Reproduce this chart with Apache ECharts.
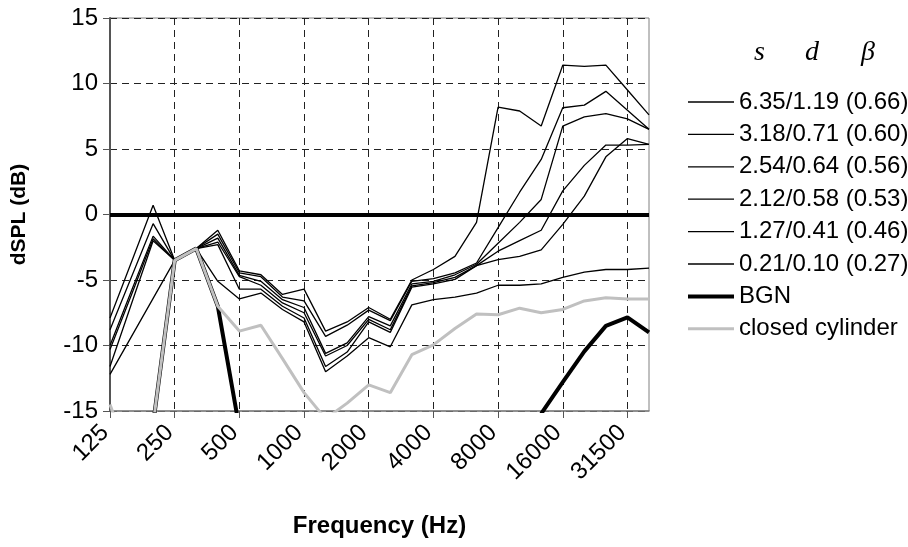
<!DOCTYPE html>
<html>
<head>
<meta charset="utf-8">
<script src="https://cdn.jsdelivr.net/npm/echarts@6/dist/echarts.min.js"></script>
<style>
  html, body { margin: 0; padding: 0; background: #fff; }
  #chart { width: 908px; height: 547px; }
</style>
</head>
<body>
<div id="chart"></div>
<script>
// One-third-octave band centre frequencies (Hz)
const categories = ['125','160','200','250','315','400','500','630','800','1000','1250','1600','2000',
  '2500','3150','4000','5000','6300','8000','10000','12500','16000','20000','25000','31500','40000'];

// Octave labels shown on the axis
const tickLabels = ['125','250','500','1000','2000','4000','8000','16000','31500'];

// dSPL (dB) for each s/d (beta) configuration
const s635 = [-7.9, -3.6, 0.7, -3.5, -2.6, -1.2, -4.3, -4.6, -6.1, -5.7, -8.9, -8.2, -7.1, -8.0, -5.0, -4.2, -3.2, -0.6, 8.2, 7.9, 6.75, 11.4, 11.3, 11.4, 9.5, 7.6];
const s318 = [-8.8, -4.75, -0.7, -3.5, -2.6, -1.5, -4.45, -4.75, -6.3, -6.6, -9.3, -8.45, -7.3, -8.1, -5.1, -4.9, -4.45, -3.7, -1.0, 1.7, 4.2, 8.15, 8.35, 9.4, 7.95, 6.5];
const s254 = [-10.0, -5.8, -1.65, -3.5, -2.6, -1.8, -4.65, -5.1, -6.5, -7.1, -10.6, -9.8, -7.8, -8.5, -5.3, -5.1, -4.6, -3.8, -2.2, -0.6, 1.15, 6.75, 7.45, 7.7, 7.3, 6.5];
const s212 = [-10.3, -6.1, -1.85, -3.5, -2.6, -2.1, -4.75, -5.4, -6.75, -7.5, -10.8, -10.0, -8.0, -8.8, -5.45, -5.2, -4.8, -3.9, -3.45, -3.2, -2.7, -0.75, 1.4, 4.4, 5.8, 5.35];
const s127 = [-11.6, -6.8, -2.0, -3.5, -2.6, -2.3, -5.7, -5.7, -7.0, -7.9, -11.6, -10.5, -8.2, -9.0, -5.55, -5.3, -4.95, -3.9, -2.8, -2.0, -1.2, 1.8, 3.75, 5.3, 5.3, 5.35];
const s021 = [-12.2, -9.3, -6.4, -3.5, -2.6, -5.1, -6.45, -6.0, -7.25, -8.2, -12.0, -10.8, -9.4, -10.1, -6.9, -6.5, -6.3, -6.0, -5.4, -5.4, -5.3, -4.8, -4.4, -4.2, -4.2, -4.1];

// Background noise and closed-cylinder reference (null where off the scale)
const bgn = [null, null, -16.0, -3.5, -2.6, -7.0, -16.3, null, null, null, null, null, null, null, null, null, null, null, null, null, -15.2, -12.8, -10.45, -8.5, -7.85, -9.0];
const closedCylinder = [-14.5, -19.0, -16.0, -3.5, -2.6, -7.0, -8.9, -8.45, -11.0, -13.6, -15.6, -14.4, -13.0, -13.6, -10.7, -9.95, -8.7, -7.6, -7.65, -7.15, -7.5, -7.25, -6.6, -6.35, -6.45, -6.45];

const seriesNames = ['6.35/1.19 (0.66)', '3.18/0.71 (0.60)', '2.54/0.64 (0.56)', '2.12/0.58 (0.53)',
  '1.27/0.41 (0.46)', '0.21/0.10 (0.27)', 'BGN', 'closed cylinder'];
const thinData = [s635, s318, s254, s212, s127, s021];

const yTicks = { min: -15, max: 15, step: 5 };

const FONT = '"Liberation Sans", Arial, sans-serif';
const SERIF = '"Liberation Serif", "Times New Roman", serif';

const chart = echarts.init(document.getElementById('chart'), null, { renderer: 'canvas' });

const everyThird = (i) => i % 3 === 0;

const series = thinData.map((d, i) => ({
  name: seriesNames[i],
  type: 'line',
  data: d,
  symbol: 'none',
  lineStyle: { color: '#000', width: 1.3 },
  itemStyle: { color: '#000' },
  z: 2
}));

series.push({
  name: 'BGN',
  type: 'line',
  data: bgn,
  symbol: 'none',
  connectNulls: false,
  lineStyle: { color: '#000', width: 4 },
  itemStyle: { color: '#000' },
  z: 3
});

series.push({
  name: 'closed cylinder',
  type: 'line',
  data: closedCylinder,
  symbol: 'none',
  lineStyle: { color: '#c0c0c0', width: 3 },
  itemStyle: { color: '#c0c0c0' },
  z: 4,
  markLine: {
    silent: true,
    symbol: 'none',
    label: { show: false },
    lineStyle: { color: '#000', width: 4, type: 'solid' },
    data: [{ yAxis: 0 }],
    animation: false
  }
});

chart.setOption({
  animation: false,
  backgroundColor: '#fff',
  grid: {
    left: 110, top: 18, width: 539, height: 393,
    containLabel: false,
    outerBoundsMode: 'none',
    show: true,
    borderColor: '#808080',
    borderWidth: 1
  },
  legend: {
    orient: 'vertical',
    left: 686,
    top: 90,
    padding: 0,
    itemWidth: 46,
    itemHeight: 14,
    itemGap: 8.4,
    data: seriesNames,
    itemStyle: { opacity: 0 },
    lineStyle: { width: 'inherit' },
    textStyle: { fontFamily: FONT, fontSize: 24, color: '#000', lineHeight: 22 },
    selectedMode: false
  },
  graphic: [
    { type: 'text', left: 754, top: 39, style: { text: 's', font: 'italic 28px ' + SERIF, fill: '#000' } },
    { type: 'text', left: 805, top: 39, style: { text: 'd', font: 'italic 28px ' + SERIF, fill: '#000' } },
    { type: 'text', left: 861, top: 39, style: { text: 'β', font: 'italic 28px ' + SERIF, fill: '#000' } }
  ],
  xAxis: {
    type: 'category',
    data: categories,
    boundaryGap: false,
    name: 'Frequency (Hz)',
    nameLocation: 'middle',
    nameGap: 103,
    nameTextStyle: { fontFamily: FONT, fontSize: 24, fontWeight: 'bold', color: '#000' },
    axisLine: { onZero: false, lineStyle: { color: '#808080', width: 1.5 } },
    axisTick: { show: true, interval: (i) => everyThird(i), length: 7, lineStyle: { color: '#555' } },
    axisLabel: {
      interval: (i) => everyThird(i),
      formatter: (v) => (tickLabels.indexOf(v) >= 0 ? v : ''),
      rotate: 45,
      margin: 13,
      padding: [0, 7, 0, 0],
      fontFamily: FONT, fontSize: 24, color: '#000'
    },
    splitLine: {
      show: true,
      interval: (i) => everyThird(i),
      lineStyle: { color: '#222', width: 1, type: [7, 5] }
    }
  },
  yAxis: {
    type: 'value',
    min: yTicks.min, max: yTicks.max, interval: yTicks.step,
    name: 'dSPL (dB)',
    nameLocation: 'middle',
    nameGap: 80,
    nameTextStyle: { fontFamily: FONT, fontSize: 21, fontWeight: 'bold', color: '#000' },
    axisLine: { show: true, lineStyle: { color: '#555', width: 2 } },
    axisTick: { show: true, length: 7, lineStyle: { color: '#555' } },
    axisLabel: { fontFamily: FONT, fontSize: 24, color: '#000', margin: 12 },
    splitLine: { show: true, lineStyle: { color: '#222', width: 1, type: [7, 5] } }
  },
  series: series
});
</script>
</body>
</html>
